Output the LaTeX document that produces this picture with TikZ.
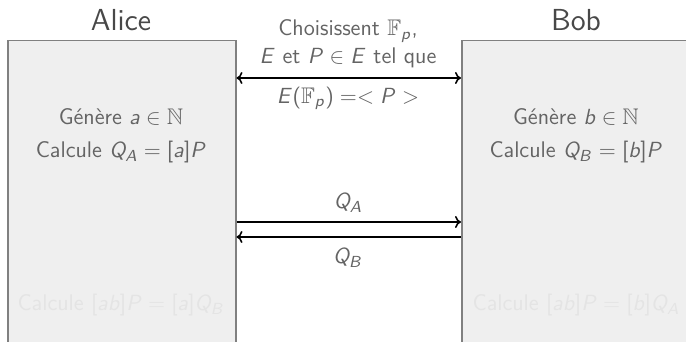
\documentclass[tikz,border=0pt]{standalone}
\usepackage{amsmath,amssymb}
\usetikzlibrary{arrows.meta,calc}
% sans serif math letters, slide style
\DeclareSymbolFont{sfit}{OT1}{cmss}{m}{sl}
\DeclareSymbolFont{sfup}{OT1}{cmss}{m}{n}
\DeclareMathSymbol{a}{\mathalpha}{sfit}{`a}
\DeclareMathSymbol{b}{\mathalpha}{sfit}{`b}
\DeclareMathSymbol{p}{\mathalpha}{sfit}{`p}
\DeclareMathSymbol{A}{\mathalpha}{sfit}{`A}
\DeclareMathSymbol{B}{\mathalpha}{sfit}{`B}
\DeclareMathSymbol{E}{\mathalpha}{sfit}{`E}
\DeclareMathSymbol{P}{\mathalpha}{sfit}{`P}
\DeclareMathSymbol{Q}{\mathalpha}{sfit}{`Q}
\DeclareMathSymbol{(}{\mathopen}{sfup}{`(}
\DeclareMathSymbol{)}{\mathclose}{sfup}{`)}
\DeclareMathSymbol{[}{\mathopen}{sfup}{`[}
\DeclareMathSymbol{]}{\mathclose}{sfup}{`]}
\definecolor{boxfill}{RGB}{239,239,239}
\definecolor{boxline}{RGB}{128,128,128}
\definecolor{txtgray}{RGB}{100,100,100}
\definecolor{ttlgray}{RGB}{72,72,72}
\definecolor{ghost}{RGB}{228,228,228}
\newcommand{\labfont}{\sffamily\fontsize{11.3}{14}\selectfont}
\tikzset{
  pbox/.style ={draw=boxline, fill=boxfill, line width=0.75pt, anchor=north west, inner sep=0pt},
  ttl/.style  ={font=\sffamily\fontsize{15.2}{18}\selectfont, text=ttlgray, inner sep=1pt},
  lab/.style  ={font=\labfont, text=txtgray, inner sep=1pt},
  glab/.style ={font=\labfont, text=ghost, inner sep=1pt},
  msg/.style  ={draw=black, line width=0.8pt, -{To[length=3pt,width=6pt]}},
  msgb/.style ={draw=black, line width=0.8pt, {To[length=3pt,width=6pt]}-{To[length=3pt,width=6pt]}},
}

\begin{document}
\begin{tikzpicture}[x=0.5pt,y=0.5pt]
  \useasboundingbox (0,0) rectangle (686,-342);
  \clip (0,0) rectangle (686,-342);
  % the two parties
  \node[pbox, minimum width=114pt, minimum height=160pt] (abox) at (7,-40) {};
  \node[pbox, minimum width=120pt, minimum height=160pt] (bbox) at (461,-40) {};
  \node[ttl] (alice) at (121,-20) {Alice};
  \node[ttl] (bob) at (576,-20) {Bob};
  % what each side computes
  \node[lab] (agen) at (121,-117) {Génère $a \in \mathbb{N}$};
  \node[lab] (acal) at (121,-152) {Calcule $Q_A = [a]P$};
  \node[glab] (afin) at (121,-305) {Calcule $[ab]P = [a]Q_B$};
  \node[lab] (bgen) at (576,-117) {Génère $b \in \mathbb{N}$};
  \node[lab] (bcal) at (576,-152) {Calcule $Q_B = [b]P$};
  \node[glab] (bfin) at (576,-305) {Calcule $[ab]P = [b]Q_A$};
  % shared parameters
  \node[lab, align=center] (pub) at (348,-44) {Choisissent $\mathbb{F}_p$,\\[0pt] $E$ et $P \in E$ tel que};
  \node[lab] (gen) at (348,-98) {$E(\mathbb{F}_p) =< P >$};
  \draw[msgb] ($(abox.north east)+(0,-38)$) coordinate (s1) -- (s1 -| bbox.west);
  % exchange
  \node[lab] (qa) at (348,-203) {$Q_A$};
  \node[lab] (qb) at (348,-258) {$Q_B$};
  \draw[msg] ($(abox.north east)+(0,-182)$) coordinate (s2) -- (s2 -| bbox.west);
  \draw[msg] ($(bbox.north west)+(0,-197)$) coordinate (s3) -- (s3 -| abox.east);
\end{tikzpicture}
\end{document}
